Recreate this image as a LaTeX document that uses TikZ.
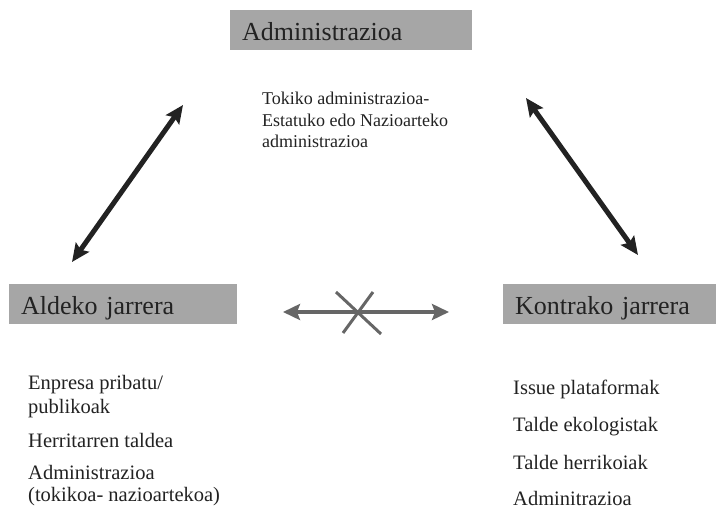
\documentclass[tikz,border=0pt]{standalone}
\usepackage{fontspec}
\setmainfont{Liberation Serif}
\usetikzlibrary{arrows.meta}

\definecolor{boxgray}{HTML}{A6A6A6}
\definecolor{inkdark}{HTML}{222222}
\definecolor{linkgray}{HTML}{666666}

\tikzset{
  titlebox/.style={fill=boxgray, anchor=west, align=left, text width=#1,
    minimum height=40pt, inner ysep=0pt, inner xsep=12pt,
    text height=22pt, text depth=1pt, text=inkdark,
    font=\fontsize{26}{30}\selectfont},
  note/.style={anchor=base west, inner sep=0pt, text=inkdark,
    font=\fontsize{18}{21}\selectfont},
  item/.style={anchor=base west, inner sep=0pt, text=inkdark,
    font=\fontsize{20.5}{24}\selectfont},
  bond/.style={draw=inkdark, line width=5pt,
    {Stealth[length=18pt,width=16pt,inset=3pt]}-{Stealth[length=18pt,width=16pt,inset=3pt]}},
  nobond/.style={draw=linkgray, line width=4pt,
    {Stealth[length=17pt,width=16pt,inset=3pt]}-{Stealth[length=17pt,width=16pt,inset=3pt]}},
  cross/.style={draw=linkgray, line width=3pt}
}

\begin{document}
\begin{tikzpicture}[x=1pt, y=-1pt]
  \useasboundingbox (0,0) rectangle (716,513);

  % the three actors
  \node[titlebox=218pt] (admin) at (230,30) {Administrazioa};
  \node[titlebox=204pt] (pro)   at (9,304)  {Aldeko jarrera};
  \node[titlebox=189pt] (contra) at (503,304) {Kontrako jarrera};

  % description under the administration box
  \node[note] (adm1) at (262,105) {Tokiko administrazioa-};
  \node[note] (adm2) at (262,126.5) {Estatuko edo Nazioarteko};
  \node[note] (adm3) at (262,148) {administrazioa};

  % members in favour
  \node[item] (pro1) at (28,390) {Enpresa pribatu/};
  \node[item] (pro2) at (28,414) {publikoak};
  \node[item] (pro3) at (28,448) {Herritarren taldea};
  \node[item] (pro4) at (28,480) {Administrazioa};
  \node[item] (pro5) at (28,502) {(tokikoa- nazioartekoa)};

  % members against
  \node[item] (con1) at (513,395) {Issue plataformak};
  \node[item] (con2) at (513,432) {Talde ekologistak};
  \node[item] (con3) at (513,469.5) {Talde herrikoiak};
  \node[item] (con4) at (513,505) {Adminitrazioa};

  % arrow end points
  \coordinate (admL) at (183,105);
  \coordinate (proT) at (72,262);
  \coordinate (admR) at (526,98);
  \coordinate (conT) at (638,255);
  \coordinate (proR) at (283,312);
  \coordinate (conL) at (449,312);
  \coordinate (x1a) at (336,292);
  \coordinate (x1b) at (381,334);
  \coordinate (x2a) at (373,292);
  \coordinate (x2b) at (343,333);

  % relations
  \draw[bond] (proT) -- (admL);
  \draw[bond] (admR) -- (conT);
  \draw[nobond] (proR) -- (conL);
  \draw[cross] (x1a) -- (x1b);
  \draw[cross] (x2a) -- (x2b);
\end{tikzpicture}
\end{document}
